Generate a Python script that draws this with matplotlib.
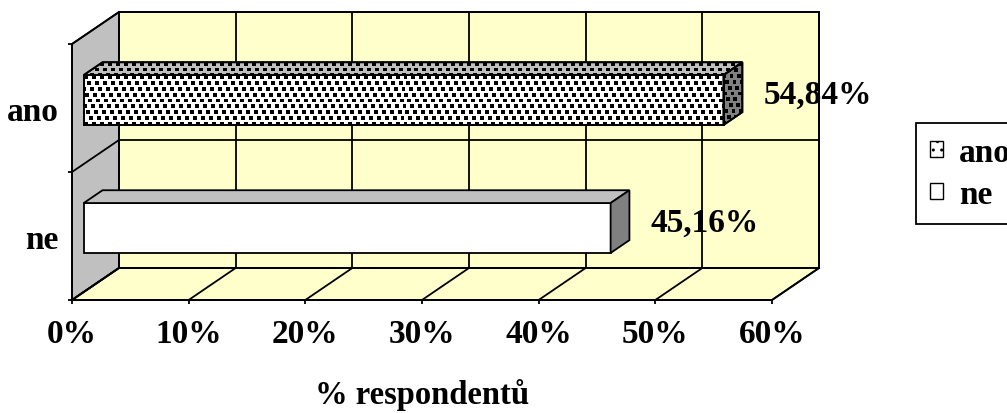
import numpy as np
import matplotlib
matplotlib.use("Agg")
import matplotlib.pyplot as plt
from matplotlib.patches import Polygon, Patch

# survey answers (share of respondents, %)
categories = ["ne", "ano"]
shares = [45.16, 54.84]
value_labels = ["45,16%", "54,84%"]
x_ticks = [0, 10, 20, 30, 40, 50, 60]
x_ticklabels = ["0%", "10%", "20%", "30%", "40%", "50%", "60%"]
legend_labels = ["ano", "ne"]

W, H = 1007, 414
plt.rcParams['font.family'] = ['Liberation Serif', 'DejaVu Serif']
plt.rcParams['font.weight'] = 'bold'
FS = 24

fig = plt.figure(figsize=(W / 100, H / 100), dpi=100)
# front plane of the 3D box
ax = fig.add_axes([72 / W, (H - 301) / H, 700 / W, 256 / H])
ax.set_xlim(0, 60)
ax.set_ylim(-0.5, 1.5)
ax.set_autoscale_on(False)
ax.patch.set_visible(False)

# depth vector of the box (pixels) converted to data units
pos = ax.get_position()
px_x = 60 / (pos.width * W)
px_y = 2.0 / (pos.height * H)
DX, DY = 47 * px_x, 32 * px_y


def pt(x, y, d):
    return (x + d * DX, y + d * DY)


WALL = "#FFFFCC"
SIDE = "#C0C0C0"
DARK = "#808080"
LW = 1.3


def face(pts, fc, z):
    p = Polygon(pts, closed=True, facecolor=fc, edgecolor="black",
                linewidth=LW, zorder=z, clip_on=False, joinstyle="miter")
    ax.add_patch(p)
    return p


xmax = x_ticks[-1]
y0, y1 = -0.5, 1.5
# walls and floor
face([pt(0, y0, 1), pt(xmax, y0, 1), pt(xmax, y1, 1), pt(0, y1, 1)], WALL, 0)
face([pt(0, y0, 0), pt(0, y0, 1), pt(0, y1, 1), pt(0, y1, 0)], SIDE, 0)
face([pt(0, y0, 0), pt(xmax, y0, 0), pt(xmax, y0, 1), pt(0, y0, 1)], WALL, 0)

# gridlines on back wall, floor and side wall
for t in x_ticks:
    ax.plot(*zip(pt(t, y0, 1), pt(t, y1, 1)), color="black", lw=LW,
            zorder=1, clip_on=False)
    ax.plot(*zip(pt(t, y0, 0), pt(t, y0, 1)), color="black", lw=LW,
            zorder=1, clip_on=False)
for b in [-0.5, 0.5, 1.5]:
    ax.plot(*zip(pt(0, b, 1), pt(xmax, b, 1)), color="black", lw=LW,
            zorder=1, clip_on=False)
    ax.plot(*zip(pt(0, b, 0), pt(0, b, 1)), color="black", lw=LW,
            zorder=1, clip_on=False)


def dot_texture(nx, ny):
    # staggered rows of small square dots
    arr = np.zeros((ny, nx, 4))
    step, row = 8, 6
    for r in range(0, ny, row):
        shift = ((r // row) * 3) % step
        for c in range(-step, nx, step):
            cx = c + shift
            xs = slice(max(cx, 0), max(cx + 4, 0))
            arr[r:r + 4, xs, 3] = 1.0
    return arr


def textured(poly):
    xy = np.array(poly.get_xy())
    xa, xb = xy[:, 0].min(), xy[:, 0].max()
    ya, yb = xy[:, 1].min(), xy[:, 1].max()
    nx = int(round((xb - xa) / px_x)) + 1
    ny = int(round((yb - ya) / px_y)) + 1
    im = ax.imshow(dot_texture(nx, ny), extent=(xa, xb, ya, yb), aspect="auto",
                   interpolation="nearest", origin="upper", zorder=4)
    im.set_clip_path(poly)
    ax.add_patch(Polygon(xy, closed=True, fill=False, edgecolor="black",
                         linewidth=LW, zorder=5, clip_on=False))


half, f0, f1 = 0.195, 0.25, 0.65
for i, (v, lab) in enumerate(zip(shares, value_labels)):
    front = [pt(0, i - half, f0), pt(v, i - half, f0), pt(v, i + half, f0), pt(0, i + half, f0)]
    top = [pt(0, i + half, f0), pt(v, i + half, f0), pt(v, i + half, f1), pt(0, i + half, f1)]
    side = [pt(v, i - half, f0), pt(v, i - half, f1), pt(v, i + half, f1), pt(v, i + half, f0)]
    faces = [face(front, "white", 3), face(top, SIDE, 3), face(side, DARK, 3)]
    if categories[i] == "ano":
        for p in faces:
            textured(p)
    ax.annotate(lab, (v, i), xytext=(37, 10), textcoords="offset points",
                ha="left", va="center", fontsize=FS, fontweight="bold",
                annotation_clip=False)

# axes, ticks and labels
for s in ["top", "right"]:
    ax.spines[s].set_visible(False)
for s in ["left", "bottom"]:
    ax.spines[s].set_linewidth(LW)
    ax.spines[s].set_zorder(2)
ax.set_xticks(x_ticks)
ax.set_xticklabels(x_ticklabels)
ax.tick_params(axis="x", direction="out", length=3, width=LW, pad=10, labelsize=FS)
ax.set_yticks([0, 1])
ax.set_yticklabels(categories)
ax.set_yticks([-0.5, 0.5, 1.5], minor=True)
ax.tick_params(axis="y", which="major", length=0, pad=9.5, labelsize=FS)
ax.tick_params(axis="y", which="minor", direction="out", length=3, width=LW)
ax.set_xlabel("% respondentů", fontsize=23.5, fontweight="bold", labelpad=21)

handles = [Patch(facecolor="white", edgecolor="black", hatch="..", label=legend_labels[0]),
           Patch(facecolor="white", edgecolor="black", label=legend_labels[1])]
leg = fig.legend(handles=handles, loc="upper left",
                 bbox_to_anchor=(916 / W, 1 - 124 / H), bbox_transform=fig.transFigure,
                 frameon=True, fancybox=False, edgecolor="black", framealpha=1,
                 borderpad=0.42, borderaxespad=0, handlelength=0.38, handleheight=0.38,
                 handletextpad=0.5, labelspacing=0.33,
                 prop={"size": FS, "weight": "bold"})
leg.get_frame().set_linewidth(LW)

fig.savefig("out.png", dpi=100)
